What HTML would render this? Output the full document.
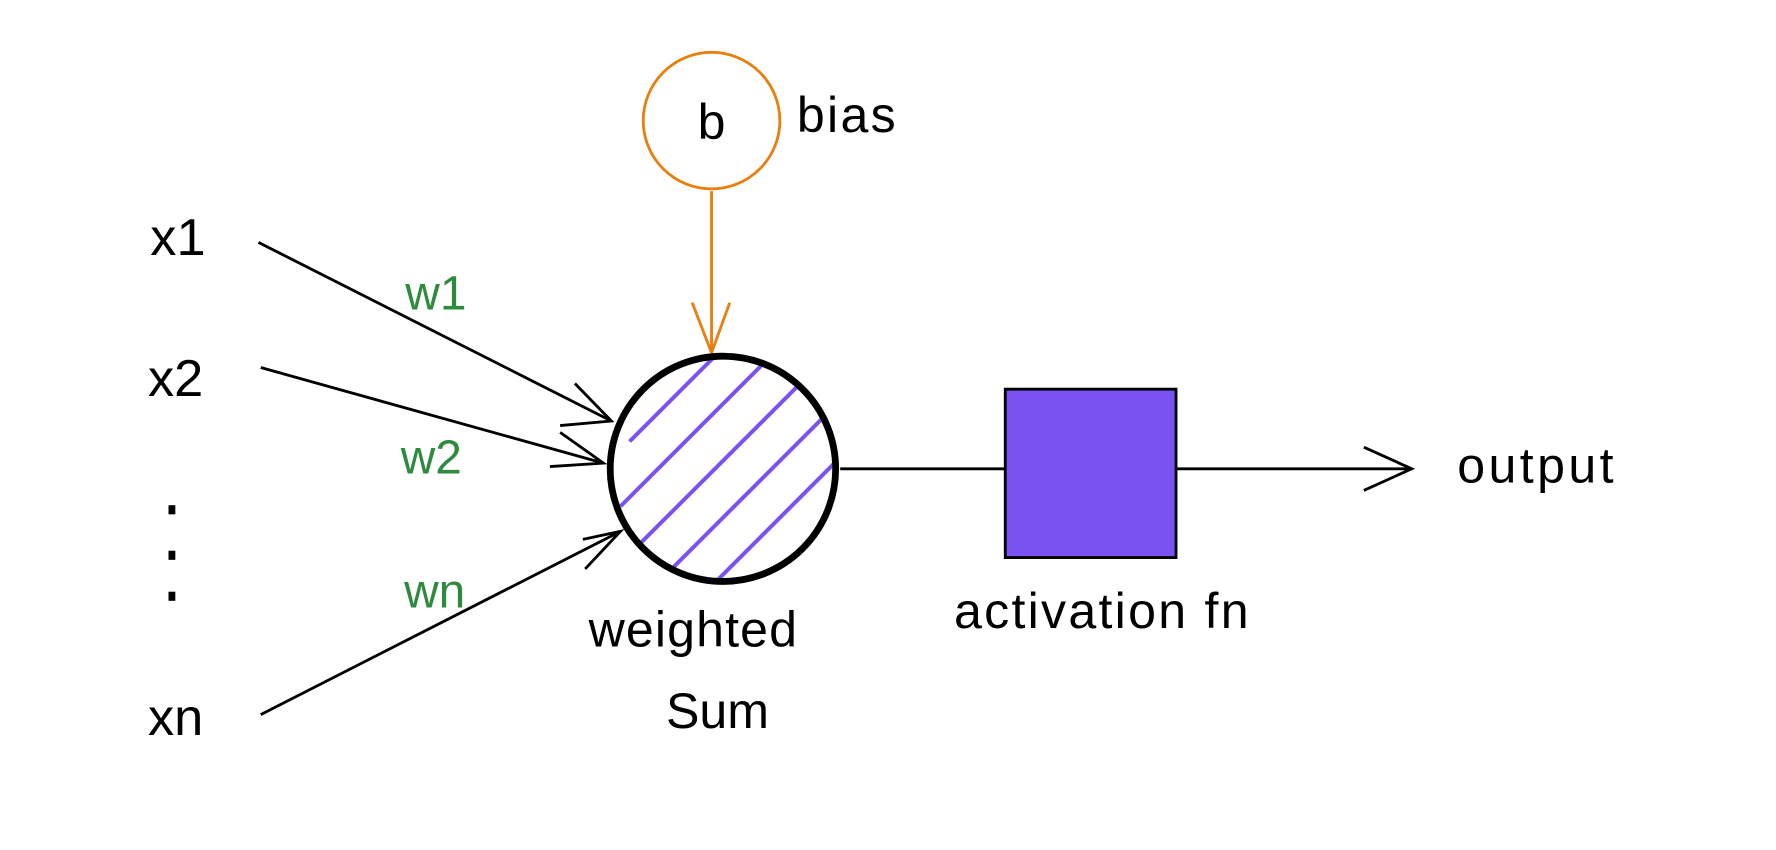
<!DOCTYPE html>
<html><head><meta charset="utf-8"><style>
html,body{margin:0;padding:0;background:#fff;}
svg{display:block;}
text{font-family:"Liberation Sans",sans-serif;}
</style></head><body>
<svg width="1776" height="850" viewBox="0 0 1560 747" preserveAspectRatio="none">
<defs><clipPath id="c"><circle cx="635" cy="412" r="96"/></clipPath></defs>
<circle cx="625" cy="106" r="60" fill="none" stroke="#e8800f" stroke-width="2.5"/>
<text x="625" y="122" font-size="44" text-anchor="middle" fill="#000">b</text>
<text x="700" y="116" font-size="44" fill="#000" letter-spacing="2">bias</text>
<line x1="625" y1="168" x2="625" y2="310" stroke="#e8800f" stroke-width="2.5"/>
<polyline points="608,266 625,310 641,266" fill="none" stroke="#e8800f" stroke-width="2.5"/>
<text x="132" y="224" font-size="46" fill="#000">x1</text>
<text x="130" y="348" font-size="46" fill="#000">x2</text>
<text x="130" y="646" font-size="46" fill="#000">xn</text>
<rect x="148" y="444" width="6" height="8" fill="#000"/>
<rect x="148" y="484" width="6" height="8" fill="#000"/>
<rect x="148" y="520" width="6" height="8" fill="#000"/>
<text x="356" y="272" font-size="42" fill="#2e8b3e">w1</text>
<text x="352" y="416" font-size="42" fill="#2e8b3e">w2</text>
<text x="355" y="534" font-size="42" fill="#2e8b3e">wn</text>
<g stroke="#000" stroke-width="2.5" fill="none">
<line x1="227" y1="213" x2="537" y2="370"/>
<polyline points="505,337 537,370 492,374"/>
<line x1="229" y1="323" x2="530" y2="407"/>
<polyline points="492,380 530,407 483,410"/>
<line x1="229" y1="628" x2="545" y2="467"/>
<polyline points="512,474 545,467 514,500"/>
<line x1="738" y1="412" x2="883" y2="412"/>
<line x1="1033" y1="412" x2="1240" y2="412"/>
<polyline points="1198,393 1240,412 1198,431"/>
</g>
<g clip-path="url(#c)" stroke="#7b52f2" stroke-width="3.5">
<line x1="553" y1="388" x2="663" y2="278"/>
<line x1="545" y1="445" x2="695" y2="295"/>
<line x1="555" y1="485" x2="725" y2="315"/>
<line x1="570" y1="520" x2="750" y2="340"/>
<line x1="595" y1="545" x2="770" y2="370"/>
<line x1="620" y1="570" x2="780" y2="410"/>
<line x1="650" y1="580" x2="790" y2="440"/>
</g>
<circle cx="635" cy="412" r="99" fill="none" stroke="#000" stroke-width="6"/>
<rect x="883" y="342" width="150" height="148" fill="#7b52f2" stroke="#000" stroke-width="2.5"/>
<text x="838" y="552" font-size="44" fill="#000" letter-spacing="2">activation fn</text>
<text x="517" y="568" font-size="44" fill="#000" letter-spacing="1">weighted</text>
<text x="585" y="640" font-size="44" fill="#000">Sum</text>
<text x="1280" y="424" font-size="44" fill="#000" letter-spacing="3">output</text>
</svg>
</body></html>
